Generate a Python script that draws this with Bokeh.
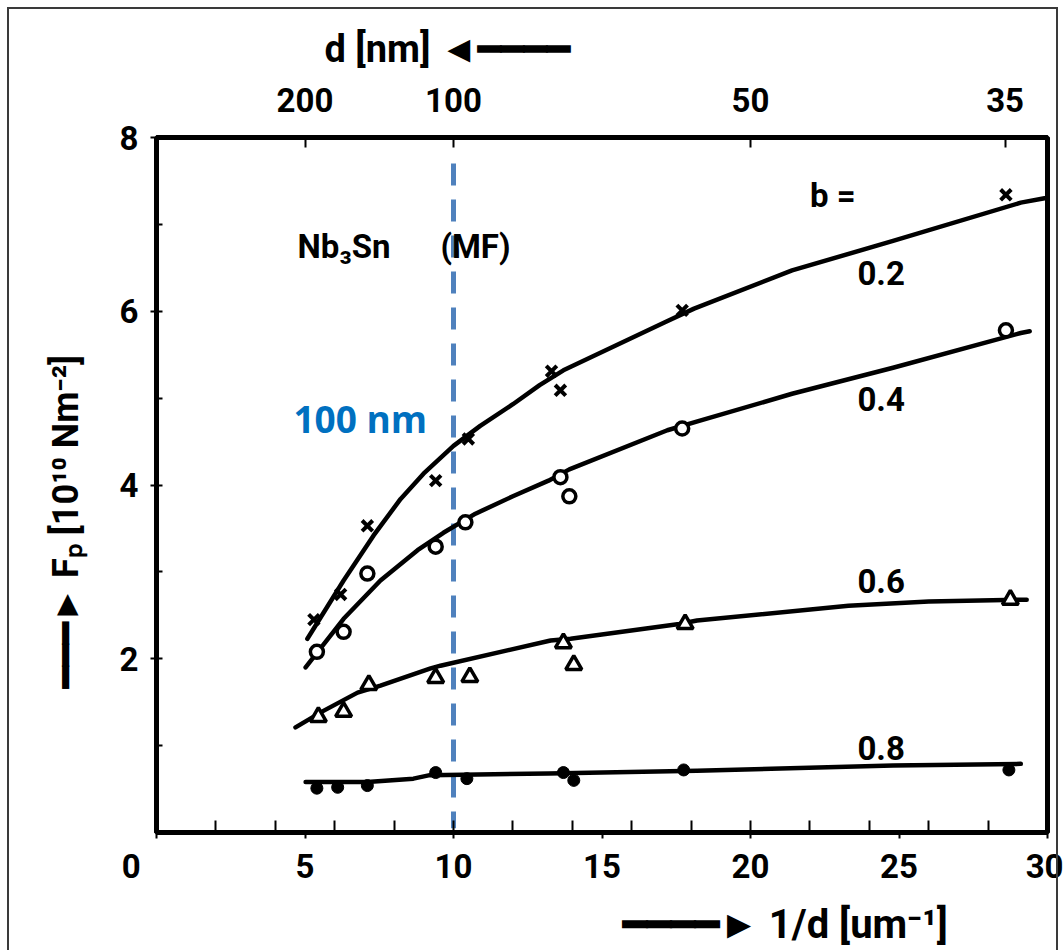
from bokeh.plotting import figure
from bokeh.models import Range1d, LinearAxis, FixedTicker, Label
from bokeh.embed import file_html
from bokeh.resources import INLINE

# Pinning force Fp [1e10 N/m^2] of Nb3Sn (MF) versus inverse grain size 1/d [um^-1]
# measured points for reduced field b
b02_x = [5.3, 6.2, 7.1, 9.4, 10.5, 13.3, 13.6, 17.7, 28.6]
b02_y = [2.45, 2.74, 3.53, 4.05, 4.53, 5.31, 5.09, 6.01, 7.34]
b04_x = [5.4, 6.3, 7.1, 9.4, 10.4, 13.6, 13.9, 17.7, 28.6]
b04_y = [2.08, 2.31, 2.98, 3.29, 3.57, 4.09, 3.87, 4.65, 5.78]
b06_x = [5.45, 6.3, 7.15, 9.4, 10.55, 13.7, 14.05, 17.8, 28.75]
b06_y = [1.33, 1.39, 1.70, 1.78, 1.79, 2.18, 1.93, 2.40, 2.68]
b08_x = [5.4, 6.1, 7.1, 9.4, 10.45, 13.7, 14.05, 17.75, 28.7]
b08_y = [0.51, 0.52, 0.54, 0.69, 0.62, 0.69, 0.60, 0.72, 0.72]

# hand-drawn guide curves through the data
c02_x = [5.08, 6.30, 7.31, 8.22, 8.99, 10.0, 10.9, 12.0, 12.9, 13.7, 17.1, 18.1, 21.4, 24.8, 29.1, 29.9]
c02_y = [2.23, 2.90, 3.42, 3.84, 4.13, 4.45, 4.68, 4.93, 5.15, 5.32, 5.87, 6.03, 6.47, 6.81, 7.25, 7.30]
c04_x = [5.02, 6.30, 7.54, 8.79, 9.66, 10.74, 12.0, 13.2, 13.9, 17.2, 18.3, 21.4, 24.8, 29.1, 29.4]
c04_y = [1.90, 2.46, 2.90, 3.25, 3.45, 3.67, 3.87, 4.05, 4.18, 4.63, 4.74, 5.05, 5.35, 5.75, 5.77]
c06_x = [4.68, 5.62, 6.77, 7.54, 9.23, 9.56, 13.27, 13.94, 17.6, 18.2, 23.3, 26.0, 29.3]
c06_y = [1.21, 1.40, 1.61, 1.69, 1.89, 1.92, 2.21, 2.23, 2.40, 2.44, 2.61, 2.66, 2.68]
c08_x = [5.02, 7.1, 8.65, 9.2, 13.2, 18.2, 24.8, 29.1]
c08_y = [0.58, 0.58, 0.62, 0.66, 0.68, 0.71, 0.77, 0.79]

curve_names = ["0.2", "0.4", "0.6", "0.8"]

# bottom axis
x_ticks = [0, 5, 10, 15, 20, 25, 30]
x_minor = [2, 4, 6, 8, 10, 12, 14, 16, 18, 20, 22, 24, 26, 28]
# left axis
y_ticks = [2, 4, 6, 8]
y_minor = [1, 3, 5, 7]
# top axis: grain size d [nm]
d_nm = [200, 100, 50, 35]

FONT = "Roboto"
EM = "\u2003"
EN = "\u2002"
BAR = "\u2501"
ref_d = 100  # nm

frame_css = (":host { position: relative; }"
             ":host::after { content: ''; position: absolute; left: 7px; top: 7px;"
             " right: 5px; bottom: 0px; border: 2px solid #3a3a3a; border-bottom: none;"
             " pointer-events: none; z-index: 100; }")

p = figure(width=1063, height=950, output_backend="svg", toolbar_location=None,
           x_range=Range1d(0, 30), y_range=Range1d(0, 8),
           min_border_left=156, min_border_right=16, min_border_top=137,
           min_border_bottom=118, stylesheets=[frame_css])
p.grid.visible = False
p.outline_line_color = "black"
p.outline_line_width = 5


def style_axis(ax, label_size):
    ax.axis_line_width = 5
    ax.major_tick_line_width = 2
    ax.minor_tick_line_width = 2
    ax.major_label_text_font = FONT
    ax.major_label_text_font_style = "bold"
    ax.major_label_text_font_size = "33px"
    ax.major_label_text_color = "black"
    ax.axis_label_text_font = FONT
    ax.axis_label_text_font_style = "bold"
    ax.axis_label_text_font_size = label_size
    ax.axis_label_text_color = "black"


xa = p.xaxis[0]
style_axis(xa, "40px")
xa.ticker = FixedTicker(ticks=x_ticks, minor_ticks=x_minor)
xa.major_label_overrides = {0: "0" + EM + EN}
xa.major_tick_in = 0
xa.major_tick_out = 6
xa.minor_tick_in = 12
xa.minor_tick_out = 0
xa.major_label_standoff = 8
xa.axis_label = EM * 9 + BAR * 4 + "\u25ba 1/d [um\u207b\u00b9]"
xa.axis_label_standoff = 12

ya = p.yaxis[0]
style_axis(ya, "36px")
ya.ticker = FixedTicker(ticks=y_ticks, minor_ticks=y_minor)
ya.major_tick_in = 6
ya.major_tick_out = 6
ya.minor_tick_in = 6
ya.minor_tick_out = 0
ya.major_label_standoff = 12
ya.axis_label = BAR * 3 + "\u25ba F\u209a [10\u00b9\u2070 Nm\u207b\u00b2]" + EM * 2
ya.axis_label_standoff = 30

top_vals = [1000.0 / d for d in d_nm]
ta = LinearAxis(ticker=FixedTicker(ticks=top_vals, minor_ticks=[]),
                major_label_overrides={v: str(d) for v, d in zip(top_vals, d_nm)})
style_axis(ta, "38px")
ta.major_tick_in = 10
ta.major_tick_out = 0
ta.major_label_standoff = 26
ta.axis_label = "d [nm] \u25c4" + BAR * 4 + EM * 8
ta.axis_label_standoff = 14
p.add_layout(ta, "above")

# 100 nm reference line
p.segment(x0=[1000.0 / ref_d], y0=[7.7], x1=[1000.0 / ref_d], y1=[0.05],
          line_color="#4F81BD", line_width=5, line_dash="22 14")

# guide curves
for cx, cy in [(c02_x, c02_y), (c04_x, c04_y), (c06_x, c06_y), (c08_x, c08_y)]:
    p.line(cx, cy, line_color="black", line_width=4.5, line_join="round", line_cap="round")

# data points
p.scatter(b02_x, b02_y, marker="x", size=15, line_color="black", line_width=4)
p.scatter(b04_x, b04_y, marker="circle", size=13, line_color="black",
          fill_color="white", line_width=3.5)
p.scatter(b06_x, b06_y, marker="triangle", size=16, line_color="black",
          fill_color="white", line_width=3.5)
p.scatter(b08_x, b08_y, marker="circle", size=12, line_color="black",
          fill_color="black", line_width=1)


def txt(x, y, s, size="33px", color="black", style="bold", font=FONT, align="left"):
    p.add_layout(Label(x=x, y=y, text=s, text_font=font, text_font_size=size,
                       text_font_style=style, text_color=color, text_align=align,
                       text_baseline="middle"))


txt(4.75, 6.75, "Nb\u2083Sn")
txt(9.56, 6.75, "(MF)")
txt(22.0, 7.33, "b =")
for name, yy in zip(curve_names, [6.44, 4.99, 2.90, 0.97]):
    txt(23.6, yy, name)
txt(4.61, 4.76, "100 nm", size="37px", color="#0070C0", font="Open Sans")

open("out.html", "w").write(file_html(p, INLINE))
